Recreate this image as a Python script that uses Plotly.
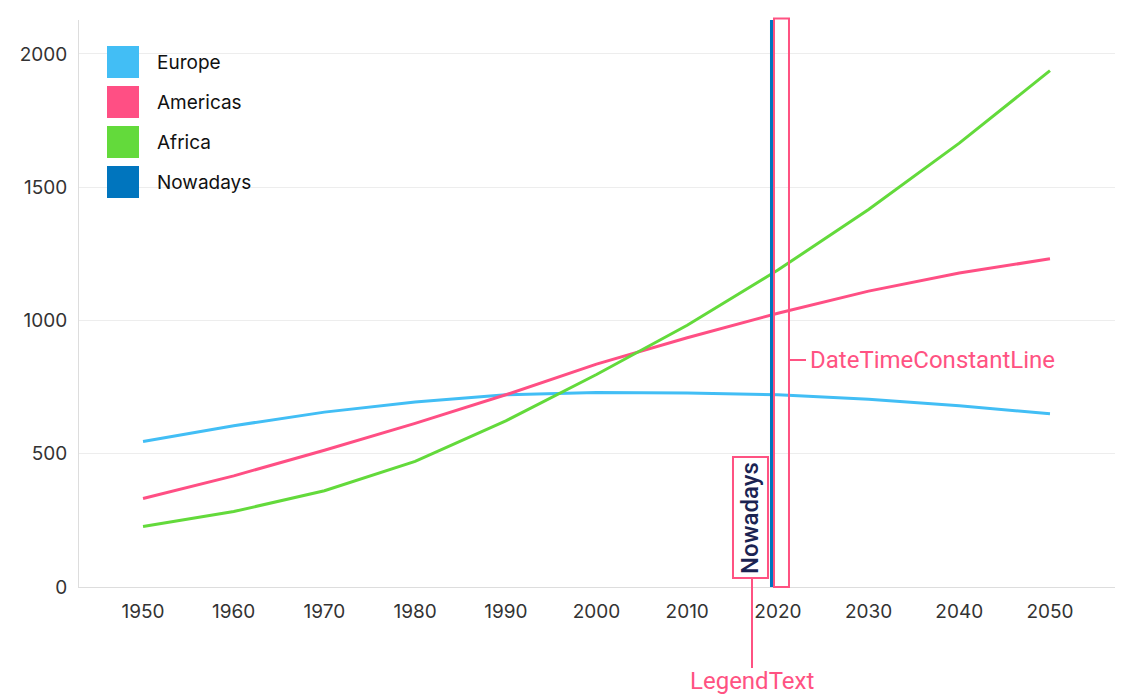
import plotly.graph_objects as go

years = [1950, 1960, 1970, 1980, 1990, 2000, 2010, 2020, 2030, 2040, 2050]
europe = [546, 605, 656, 694, 721, 730, 728, 721, 704, 680, 650]
americas = [332, 417, 513, 614, 721, 836, 935, 1027, 1110, 1178, 1231]
africa = [227, 283, 361, 471, 623, 797, 982, 1189, 1416, 1665, 1937]
series_names = ["Europe", "Americas", "Africa"]
series_colors = ["#42BEF5", "#FF4F84", "#63DA3B"]
nowadays_name = "Nowadays"
nowadays_x = 2019.35
nowadays_color = "#0075BE"
y_ticks = [0, 500, 1000, 1500, 2000]
x_ticks = years
note_color = "#FF5282"

PH = 567.0  # plot height in px

fig = go.Figure()
for name, vals, col in zip(series_names, [europe, americas, africa], series_colors):
    fig.add_trace(go.Scatter(x=years, y=vals, mode="lines", name=name,
                             line=dict(color=col, width=3), showlegend=False,
                             hoverinfo="x+y+name"))

shapes = []
annotations = []
# constant line
shapes.append(dict(type="line", xref="x", yref="paper", x0=nowadays_x, x1=nowadays_x,
                   y0=0, y1=1, line=dict(color=nowadays_color, width=4), layer="above"))

# manual legend
shapes.append(dict(type="rect", xref="paper", yref="paper", xsizemode="pixel", ysizemode="pixel",
                   xanchor=0, yanchor=1, x0=21, x1=182, y0=-20, y1=-186,
                   fillcolor="white", line=dict(width=0), layer="below"))
legend_items = list(zip(series_names, series_colors)) + [(nowadays_name, nowadays_color)]
for i, (name, col) in enumerate(legend_items):
    top = 26 + 40 * i
    shapes.append(dict(type="rect", xref="paper", yref="paper", xsizemode="pixel", ysizemode="pixel",
                       xanchor=0, yanchor=1, x0=28, x1=60, y0=-top, y1=-(top + 32),
                       fillcolor=col, line=dict(width=0), layer="above"))
    annotations.append(dict(xref="paper", yref="paper", x=0, y=1, xanchor="left", yanchor="middle",
                            xshift=76, yshift=-(top + 16), text=name, showarrow=False,
                            font=dict(family="Inter, sans-serif", size=19, color="#111111")))

# annotation box around the constant line
shapes.append(dict(type="rect", xref="x", yref="paper", xsizemode="pixel", xanchor=nowadays_x,
                   x0=2, x1=17, y0=0, y1=1 + 1.5 / PH,
                   line=dict(color=note_color, width=2), layer="above"))
shapes.append(dict(type="line", xref="x", yref="paper", xsizemode="pixel", xanchor=nowadays_x,
                   x0=17, x1=34, y0=(587 - 360) / PH, y1=(587 - 360) / PH,
                   line=dict(color=note_color, width=2), layer="above"))
annotations.append(dict(xref="x", yref="paper", x=nowadays_x, y=(587 - 360) / PH,
                        xanchor="left", yanchor="middle", xshift=36, text="DateTimeConstantLine",
                        showarrow=False, font=dict(family="Roboto", size=24, color=note_color)))

# rotated legend text near the constant line
annotations.append(dict(xref="x", yref="paper", x=nowadays_x, y=(587 - 518) / PH,
                        xanchor="center", yanchor="middle", xshift=-22, text=nowadays_name,
                        textangle=-90, showarrow=False,
                        font=dict(family="Roboto", size=24, weight=500, color="#1B2352")))
shapes.append(dict(type="rect", xref="x", yref="paper", xsizemode="pixel", xanchor=nowadays_x,
                   x0=-39, x1=-4, y0=(587 - 578) / PH, y1=(587 - 457) / PH,
                   line=dict(color=note_color, width=2), layer="above"))
shapes.append(dict(type="line", xref="x", yref="paper", xsizemode="pixel", xanchor=nowadays_x,
                   x0=-20, x1=-20, y0=(587 - 578) / PH, y1=(587 - 668) / PH,
                   line=dict(color=note_color, width=2), layer="above"))
annotations.append(dict(xref="x", yref="paper", x=nowadays_x, y=(587 - 681) / PH,
                        xanchor="center", yanchor="middle", xshift=-20, text="LegendText",
                        showarrow=False, font=dict(family="Roboto", size=24, color=note_color)))

fig.update_layout(
    width=1128, height=688,
    margin=dict(l=71, r=21, t=12, b=109),
    plot_bgcolor="white", paper_bgcolor="white",
    showlegend=False,
    shapes=shapes, annotations=annotations,
    xaxis=dict(range=[1942.94, 2057.17], tickvals=x_ticks, showgrid=False, zeroline=False,
               showline=True, linecolor="#DDDDDD", linewidth=1, ticks="",
               ticklabelstandoff=7,
               tickfont=dict(family="Inter, sans-serif", size=19, color="#333333")),
    yaxis=dict(range=[0, 2127], tickvals=y_ticks, showgrid=True, gridcolor="#EDEDED", gridwidth=1,
               zeroline=False, showline=True, linecolor="#DDDDDD", linewidth=1, ticks="",
               ticklabelstandoff=7,
               tickfont=dict(family="Inter, sans-serif", size=19, color="#333333")),
)

fig.write_html("out.html")
